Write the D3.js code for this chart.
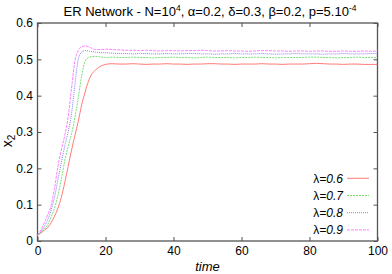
<!DOCTYPE html>
<html>
<head>
<meta charset="utf-8">
<script src="https://cdn.jsdelivr.net/npm/d3@7"></script>
<style>
  body { margin: 0; background: #fff; }
  svg { display: block; font-family: "Liberation Sans", Arial, sans-serif; }
</style>
</head>
<body>
<div id="chart"></div>
<script>
// time points (dense during the rise, every 2 units on the plateau)
var times = [0,1,2,3,4,5,6,7,8,9,10,11,12,13,14,15,16,17,18,19,20,
  22,24,26,28,30,32,34,36,38,40,42,44,46,48,50,52,54,56,58,60,
  62,64,66,68,70,72,74,76,78,80,82,84,86,88,90,92,94,96,98,100];

var seriesNames = ["λ=0.6", "λ=0.7", "λ=0.8", "λ=0.9"];

var lambda06 = [0.016,0.022,0.030,0.037,0.050,0.068,0.090,0.120,0.160,0.205,0.250,0.290,0.330,0.375,0.410,0.440,0.460,0.470,0.478,0.483,0.486,
  0.488,0.487,0.487,0.488,0.487,0.486,0.487,0.487,0.488,0.487,0.487,0.486,0.487,0.487,0.488,0.488,0.487,0.487,0.486,0.487,
  0.487,0.487,0.488,0.487,0.487,0.486,0.487,0.487,0.487,0.488,0.489,0.488,0.487,0.487,0.486,0.487,0.487,0.486,0.486,0.486];

var lambda07 = [0.016,0.024,0.033,0.045,0.066,0.090,0.125,0.170,0.220,0.260,0.295,0.340,0.395,0.455,0.495,0.505,0.508,0.508,0.507,0.506,0.505,
  0.506,0.505,0.505,0.506,0.505,0.505,0.504,0.505,0.505,0.506,0.505,0.505,0.504,0.505,0.506,0.505,0.505,0.505,0.504,0.505,
  0.505,0.506,0.505,0.505,0.504,0.505,0.505,0.505,0.505,0.506,0.506,0.505,0.505,0.504,0.505,0.505,0.506,0.505,0.505,0.504];

var lambda08 = [0.016,0.026,0.040,0.058,0.085,0.120,0.168,0.215,0.260,0.300,0.350,0.430,0.500,0.520,0.524,0.523,0.521,0.520,0.519,0.518,0.518,
  0.517,0.516,0.516,0.515,0.516,0.516,0.515,0.515,0.516,0.515,0.515,0.516,0.516,0.515,0.515,0.514,0.515,0.515,0.516,0.515,
  0.515,0.515,0.516,0.515,0.514,0.515,0.515,0.516,0.515,0.515,0.515,0.514,0.515,0.515,0.516,0.515,0.515,0.515,0.516,0.516];

var lambda09 = [0.016,0.030,0.050,0.072,0.098,0.145,0.205,0.250,0.290,0.340,0.420,0.495,0.525,0.535,0.537,0.535,0.530,0.527,0.527,0.527,0.528,
  0.527,0.526,0.525,0.525,0.524,0.525,0.524,0.523,0.524,0.524,0.523,0.524,0.524,0.525,0.524,0.523,0.523,0.524,0.523,0.523,
  0.522,0.523,0.524,0.524,0.523,0.523,0.522,0.523,0.523,0.522,0.523,0.523,0.522,0.522,0.523,0.522,0.522,0.523,0.522,0.523];

var xTicks = [0, 20, 40, 60, 80, 100];
var yTicks = [0, 0.1, 0.2, 0.3, 0.4, 0.5, 0.6];

var colors = ["#ff6b6b", "#66dd66", "#7373ff", "#ff73ff"];
var dashes = [null, "2,1", "1,1", "3,1"];

var width = 392, height = 274;
var margin = { left: 37.5, right: 14.5, top: 23, bottom: 33 };

var svg = d3.select("#chart").append("svg")
  .attr("width", width)
  .attr("height", height);

var x = d3.scaleLinear().domain([0, 100]).range([margin.left, width - margin.right]);
var y = d3.scaleLinear().domain([0, 0.6]).range([height - margin.bottom, margin.top]);

// axes (ticks point inward, gnuplot style)
var fontSize = 12;

var gx = svg.append("g")
  .attr("transform", "translate(0," + y(0) + ")")
  .call(d3.axisBottom(x).tickValues(xTicks).tickSize(-4).tickPadding(5).tickFormat(d3.format("d")));
var gy = svg.append("g")
  .attr("transform", "translate(" + x(0) + ",0)")
  .call(d3.axisLeft(y).tickValues(yTicks).tickSize(-4).tickPadding(4.5).tickFormat(d => d === 0 ? "0" : d3.format(".1f")(d)));
var gt = svg.append("g")
  .attr("transform", "translate(0," + y(0.6) + ")")
  .call(d3.axisTop(x).tickValues(xTicks).tickSize(-4).tickFormat(""));
var gr = svg.append("g")
  .attr("transform", "translate(" + x(100) + ",0)")
  .call(d3.axisRight(y).tickValues(yTicks).tickSize(-4).tickFormat(""));

[gx, gy, gt, gr].forEach(function(g) {
  g.select(".domain").remove();
  g.selectAll(".tick line").attr("stroke", "#555");
  g.selectAll(".tick text")
    .attr("fill", "#000")
    .style("font-size", fontSize + "px")
    .style("font-family", "Liberation Sans, Arial, sans-serif");
});

// frame
svg.append("rect")
  .attr("x", x(0))
  .attr("y", y(0.6))
  .attr("width", x(100) - x(0))
  .attr("height", y(0) - y(0.6))
  .attr("fill", "none")
  .attr("stroke", "#555")
  .attr("stroke-width", 1.3);

// curves
var allSeries = [lambda06, lambda07, lambda08, lambda09];
var line = d3.line()
  .x((d, i) => x(times[i]))
  .y(d => y(d))
  .curve(d3.curveMonotoneX);

svg.append("g").selectAll("path")
  .data(allSeries)
  .enter().append("path")
  .attr("d", line)
  .attr("fill", "none")
  .attr("stroke", (d, i) => colors[i])
  .attr("stroke-width", 0.9)
  .attr("stroke-dasharray", (d, i) => dashes[i]);

// legend
var legendTop = 178.3, legendStep = 17.2;
var lg = svg.append("g").selectAll("g")
  .data(seriesNames)
  .enter().append("g")
  .attr("transform", (d, i) => "translate(0," + (legendTop + i * legendStep) + ")");

lg.append("text")
  .attr("x", 343)
  .attr("y", 4.3)
  .attr("text-anchor", "end")
  .style("font-size", "12px")
  .each(function(d) {
    var t = d3.select(this);
    t.append("tspan").text(d.charAt(0));
    t.append("tspan").style("font-style", "italic").text(d.slice(1));
  });

lg.append("line")
  .attr("x1", 347)
  .attr("x2", 369)
  .attr("y1", 0)
  .attr("y2", 0)
  .attr("stroke", (d, i) => colors[i])
  .attr("stroke-width", 0.9)
  .attr("stroke-dasharray", (d, i) => dashes[i]);

// title
var title = svg.append("text")
  .attr("x", 210)
  .attr("y", 16)
  .attr("text-anchor", "middle")
  .style("font-size", "13px");
title.append("tspan").text("ER Network - N=10");
title.append("tspan").attr("dy", -5).style("font-size", "8.5px").text("4");
title.append("tspan").attr("dy", 5).text(", α=0.2, δ=0.3, β=0.2, p=5.10");
title.append("tspan").attr("dy", -5).style("font-size", "8.5px").text("-4");

// axis labels
svg.append("text")
  .attr("x", (x(0) + x(100)) / 2)
  .attr("y", 271)
  .attr("text-anchor", "middle")
  .style("font-size", "13px")
  .style("font-style", "italic")
  .text("time");

var yl = svg.append("text")
  .attr("transform", "translate(12,141) rotate(-90)")
  .attr("text-anchor", "middle")
  .style("font-size", "14px");
yl.append("tspan").text("x");
yl.append("tspan").attr("dy", 3).style("font-size", "10px").text("2");
</script>
</body>
</html>
